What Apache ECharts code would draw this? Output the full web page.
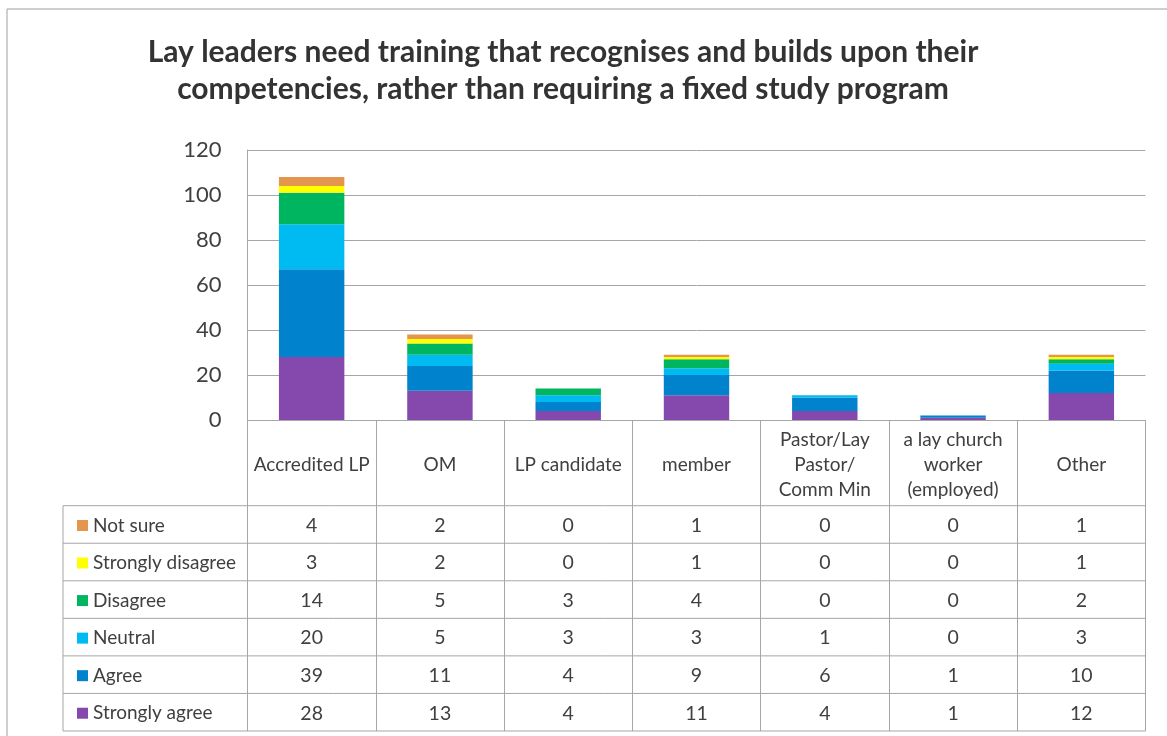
<!DOCTYPE html>
<html>
<head>
<meta charset="utf-8">
<script src="https://cdn.jsdelivr.net/npm/echarts@6/dist/echarts.min.js"></script>
<style>
  html, body { margin: 0; padding: 0; background: #fff; }
  #chart { width: 1167px; height: 736px; }
</style>
</head>
<body>
<div id="chart"></div>
<script>
// data
var categories = ['Accredited LP', 'OM', 'LP candidate', 'member', 'Pastor/Lay\nPastor/\nComm Min', 'a lay church\nworker\n(employed)', 'Other'];
var notSure = [4, 2, 0, 1, 0, 0, 1];
var stronglyDisagree = [3, 2, 0, 1, 0, 0, 1];
var disagree = [14, 5, 3, 4, 0, 0, 2];
var neutral = [20, 5, 3, 3, 1, 0, 3];
var agree = [39, 11, 4, 9, 6, 1, 10];
var stronglyAgree = [28, 13, 4, 11, 4, 1, 12];
var yTicks = [0, 20, 40, 60, 80, 100, 120];

// table rows top-to-bottom, as in the reference
var rows = [
  { name: 'Not sure', data: notSure, color: '#E4964F' },
  { name: 'Strongly disagree', data: stronglyDisagree, color: '#FFFF00' },
  { name: 'Disagree', data: disagree, color: '#00B55F' },
  { name: 'Neutral', data: neutral, color: '#00BBF2' },
  { name: 'Agree', data: agree, color: '#0083CC' },
  { name: 'Strongly agree', data: stronglyAgree, color: '#8549AD' }
];

var FONT = 'Lato, "Open Sans", sans-serif';
var ink = '#404040';
var rule = '#a6a6a6';

// layout
var plotL = 247.5, plotR = 1145.5, plotT = 150, plotB = 420;
var headH = 85.7, rowH = 37.55, tableL = 63;

var chart = echarts.init(document.getElementById('chart'), null, { renderer: 'canvas' });

var xAxes = [{
  type: 'category',
  data: categories,
  position: 'bottom',
  axisLine: { show: true, lineStyle: { color: rule, width: 1 } },
  axisTick: { show: true, length: headH + rowH * rows.length, interval: 0, lineStyle: { color: rule } },
  axisLabel: { interval: 0, margin: headH / 2 + 2, verticalAlign: 'middle', color: ink, fontSize: 19, lineHeight: 25, fontFamily: FONT }
}];
rows.forEach(function (r, k) {
  xAxes.push({
    type: 'category',
    data: categories,
    position: 'bottom',
    offset: headH + rowH * k + rowH / 2,
    axisLine: { show: false },
    axisTick: { show: false },
    axisLabel: {
      interval: 0, margin: 1, verticalAlign: 'middle', color: ink, fontSize: 19.5, fontFamily: FONT,
      formatter: function (v, i) { return String(r.data[i]); }
    }
  });
});

// stacked series bottom-up
var series = rows.slice().reverse().map(function (r) {
  return {
    name: r.name,
    type: 'bar',
    stack: 'total',
    barWidth: '51%',
    data: r.data,
    itemStyle: { color: r.color }
  };
});

// table borders
var lines = [];
for (var k = 0; k <= rows.length; k++) {
  var y = plotB + headH + rowH * k;
  lines.push({ type: 'line', shape: { x1: tableL, y1: y, x2: plotR, y2: y }, style: { stroke: rule, lineWidth: 1 } });
}
lines.push({ type: 'line', shape: { x1: tableL, y1: plotB + headH, x2: tableL, y2: plotB + headH + rowH * rows.length }, style: { stroke: rule, lineWidth: 1 } });
// outer chart frame
lines.push({ type: 'line', shape: { x1: 7, y1: 9, x2: 1167, y2: 9 }, style: { stroke: '#bfbfbf', lineWidth: 1.5 } });
lines.push({ type: 'line', shape: { x1: 7, y1: 9, x2: 7, y2: 736 }, style: { stroke: '#bfbfbf', lineWidth: 1.5 } });

chart.setOption({
  animation: false,
  title: {
    text: 'Lay leaders need training that recognises and builds upon their\ncompetencies, rather than requiring a fixed study program',
    left: 558,
    top: 29,
    textAlign: 'center',
    textStyle: { fontFamily: FONT, fontSize: 30, fontWeight: 'bold', color: '#333333', lineHeight: 37 }
  },
  legend: {
    data: rows.map(function (r) { return r.name; }),
    orient: 'vertical',
    left: 72,
    top: plotB + headH + (rowH - 20) / 2 - 4,
    itemWidth: 11,
    itemHeight: 11,
    itemGap: rowH - 20,
    icon: 'rect',
    selectedMode: false,
    textStyle: { fontFamily: FONT, fontSize: 19, color: ink, lineHeight: 20, padding: [0, 0, 0, 0] }
  },
  grid: { left: plotL, right: 1167 - plotR, top: plotT, height: plotB - plotT, containLabel: false },
  xAxis: xAxes,
  yAxis: {
    type: 'value',
    min: yTicks[0],
    max: yTicks[yTicks.length - 1],
    interval: 20,
    axisLine: { show: true, lineStyle: { color: rule, width: 1 } },
    axisTick: { show: false },
    axisLabel: { margin: 26, color: ink, fontSize: 22, fontFamily: FONT },
    splitLine: { lineStyle: { color: rule, width: 1 } }
  },
  series: series,
  graphic: lines
});
</script>
</body>
</html>
